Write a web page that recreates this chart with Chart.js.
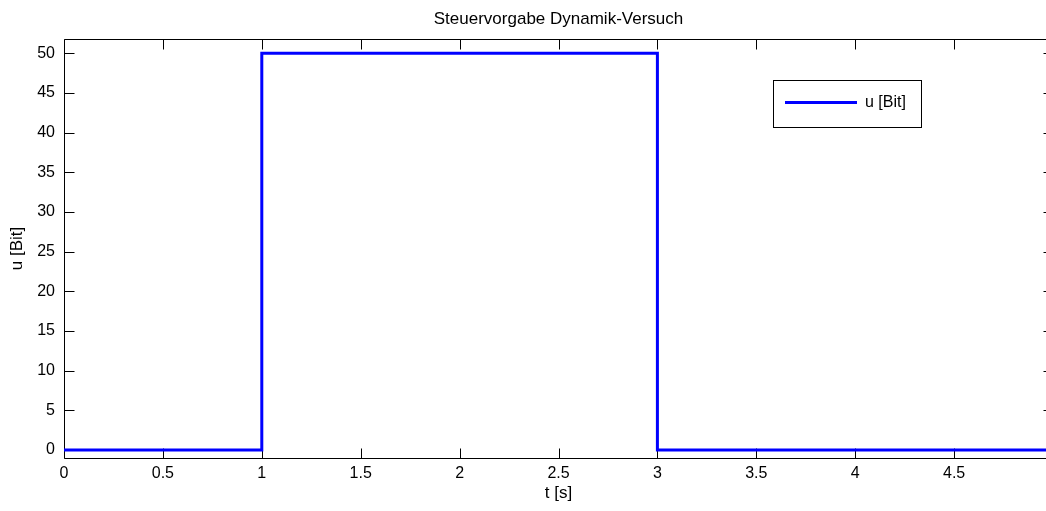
<!DOCTYPE html>
<html>
<head>
<meta charset="utf-8">
<title>Steuervorgabe Dynamik-Versuch</title>
<script src="https://cdn.jsdelivr.net/npm/chart.js@4.4.1/dist/chart.umd.min.js"></script>
<style>
  html, body { margin: 0; padding: 0; background: #fff; overflow: hidden; }
  /* canvas is a little wider than the window: the right frame edge sits just off screen */
  #wrap { width: 1060px; height: 511px; }
</style>
</head>
<body>
<div id="wrap"><canvas id="chart-step" width="1060" height="511"></canvas></div>
<script>
// Step input: 0 Bit, jump to 50 Bit at t = 1 s, back to 0 at t = 3 s
const timeS = [0, 1, 1, 3, 3, 5];
const uBit = [0, 0, 50, 50, 0, 0];

const xTicks = [0, 0.5, 1, 1.5, 2, 2.5, 3, 3.5, 4, 4.5, 5];
const xTickLabels = ['0', '0.5', '1', '1.5', '2', '2.5', '3', '3.5', '4', '4.5', ''];
const yTicks = [0, 5, 10, 15, 20, 25, 30, 35, 40, 45, 50];

const FONT = 'Arial, "Liberation Sans", sans-serif';
const TICK_LEN = 10;

// Box round the plot with inward pointing ticks on all four sides
const frameTicks = {
  id: 'frameTicks',
  beforeDatasetsDraw(chart) {
    const { ctx, chartArea: a, scales: { x, y } } = chart;
    const l = a.left + 0.5, r = a.right + 0.5, t = a.top + 0.5, b = a.bottom + 0.5;
    ctx.save();
    ctx.strokeStyle = '#000';
    ctx.lineWidth = 1;
    ctx.beginPath();
    ctx.moveTo(l, t); ctx.lineTo(r, t); ctx.lineTo(r, b); ctx.lineTo(l, b); ctx.closePath();
    x.ticks.forEach((tk) => {
      const px = Math.round(x.getPixelForValue(tk.value)) + 0.5;
      ctx.moveTo(px, b); ctx.lineTo(px, b - TICK_LEN);
      ctx.moveTo(px, t); ctx.lineTo(px, t + TICK_LEN);
    });
    y.ticks.forEach((tk) => {
      const py = Math.round(y.getPixelForValue(tk.value)) + 0.5;
      ctx.moveTo(l, py); ctx.lineTo(l + TICK_LEN, py);
      ctx.moveTo(r, py); ctx.lineTo(r - TICK_LEN, py);
    });
    ctx.stroke();
    ctx.restore();
  },
};

// Title centred over the plot area
const plotTitle = {
  id: 'plotTitle',
  afterDraw(chart) {
    const { ctx, chartArea: a } = chart;
    ctx.save();
    ctx.font = `17px ${FONT}`;
    ctx.fillStyle = '#000';
    ctx.textAlign = 'center';
    ctx.textBaseline = 'middle';
    ctx.fillText(chart.options.plugins.plotTitle.text, (a.left + a.right) / 2, 19);
    ctx.restore();
  },
};

// Boxed legend in the upper right of the plot
const boxLegend = {
  id: 'boxLegend',
  afterDraw(chart) {
    const { ctx, chartArea: a } = chart;
    const ds = chart.data.datasets[0];
    const bx = a.right - 280, by = a.top + 41, bw = 148, bh = 47;
    ctx.save();
    ctx.fillStyle = '#fff';
    ctx.fillRect(bx, by, bw, bh);
    ctx.strokeStyle = '#000';
    ctx.lineWidth = 1;
    ctx.strokeRect(bx + 0.5, by + 0.5, bw, bh);
    ctx.strokeStyle = ds.borderColor;
    ctx.lineWidth = ds.borderWidth;
    ctx.beginPath();
    ctx.moveTo(bx + 12, by + 22.5);
    ctx.lineTo(bx + 84, by + 22.5);
    ctx.stroke();
    ctx.font = `16px ${FONT}`;
    ctx.fillStyle = '#000';
    ctx.textAlign = 'left';
    ctx.textBaseline = 'middle';
    ctx.fillText(ds.label, bx + 92, by + 23);
    ctx.restore();
  },
};

new Chart(document.getElementById('chart-step'), {
  type: 'line',
  data: {
    datasets: [{
      label: 'u [Bit]',
      data: timeS.map((t, i) => ({ x: t, y: uBit[i] })),
      borderColor: '#0000ff',
      borderWidth: 3,
      pointRadius: 0,
      tension: 0,
      fill: false,
    }],
  },
  options: {
    responsive: false,
    animation: false,
    layout: { padding: { top: 39, right: 7, bottom: 0, left: 0 } },
    plugins: {
      legend: { display: false },
      tooltip: { enabled: false },
      title: { display: false },
      plotTitle: { text: 'Steuervorgabe Dynamik-Versuch' },
    },
    scales: {
      x: {
        type: 'linear',
        min: 0,
        max: 5,
        grid: { display: false, drawTicks: false },
        border: { display: false },
        afterBuildTicks: (s) => { s.ticks = xTicks.map((v) => ({ value: v })); },
        afterFit: (s) => { s.height = 53; s.paddingLeft = 0; s.paddingRight = 0; },
        ticks: {
          autoSkip: false,
          maxRotation: 0,
          padding: 6,
          color: '#000',
          font: { family: FONT, size: 16 },
          callback: (v) => xTickLabels[xTicks.indexOf(v)],
        },
        title: {
          display: true,
          text: 't [s]',
          color: '#000',
          font: { family: FONT, size: 17 },
          padding: { top: 0, bottom: 7 },
        },
      },
      y: {
        type: 'linear',
        min: -1,
        max: 51.8,
        grid: { display: false, drawTicks: false },
        border: { display: false },
        afterBuildTicks: (s) => { s.ticks = yTicks.map((v) => ({ value: v })); },
        afterFit: (s) => { s.width = 64; s.paddingTop = 0; s.paddingBottom = 0; },
        ticks: {
          autoSkip: false,
          padding: 9,
          color: '#000',
          font: { family: FONT, size: 16 },
        },
        title: {
          display: true,
          text: 'u [Bit]',
          color: '#000',
          font: { family: FONT, size: 17 },
          padding: { top: 7, bottom: 0 },
        },
      },
    },
  },
  plugins: [frameTicks, plotTitle, boxLegend],
});
</script>
</body>
</html>
